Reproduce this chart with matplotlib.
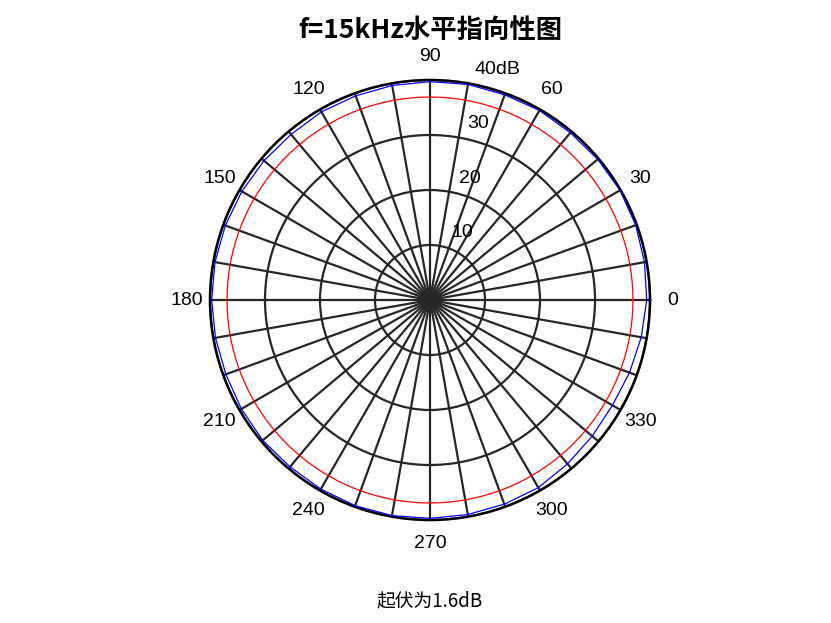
import numpy as np
import matplotlib
matplotlib.use("Agg")
import matplotlib.pyplot as plt

plt.rcParams["font.family"] = ["Liberation Sans", "DejaVu Sans"]

# measured level (dB) every 10 degrees, 0..350
angles_deg = np.arange(0, 360, 10)
level_db = [39.4, 39.6, 39.8, 39.9, 39.8, 39.7, 39.8, 39.7, 39.8,
            39.7, 39.6, 39.5, 39.5, 39.3, 39.4, 39.5, 39.6, 39.7,
            39.7, 39.6, 39.5, 39.6, 39.7, 39.6, 39.7, 39.8, 39.8,
            39.7, 39.6, 39.5, 39.4, 38.9, 38.5, 38.3, 38.6, 39.0]
ref_db = max(level_db) - 3.0          # -3 dB reference circle
ripple = max(level_db) - min(level_db)

r_ticks = [10, 20, 30, 40]
r_labels = ["10", "20", "30", "40dB"]
theta_labels = list(range(0, 360, 30))

title = "f=15kHz水平指向性图"
note = "起伏为%.1fdB" % ripple

fig = plt.figure(figsize=(8.31, 6.23), dpi=100)
ax = fig.add_axes([0.2527, 0.1653, 0.5295, 0.7063], projection="polar")

th = np.deg2rad(np.append(angles_deg, angles_deg[0]))
lv = np.append(level_db, level_db[0])
ax.plot(th, lv, color="blue", lw=0.9, zorder=3)
tt = np.linspace(0, 2*np.pi, 721)
ax.plot(tt, np.full_like(tt, ref_db), color="red", lw=0.9, zorder=3)

ax.set_ylim(0, 40)
ax.set_rticks(r_ticks)
ax.set_yticklabels([])
ax.set_thetagrids(np.arange(0, 360, 10), labels=[""]*36)
ax.tick_params(length=0)
ax.grid(True, color="#262626", lw=1.6)
ax.spines["polar"].set_color("black")
ax.spines["polar"].set_linewidth(1.8)

for a in theta_labels:
    ax.text(np.deg2rad(a), 44.2, str(a), ha="center", va="center", fontsize=14)

for r, lab in zip(r_ticks, r_labels):
    ax.annotate(lab, xy=(np.deg2rad(82), r + 0.5), xytext=(9.9, 4.2),
                textcoords="offset points", ha="left", va="baseline",
                fontsize=14, annotation_clip=False)

fig.text(0.5175, 0.951, title, ha="center", va="center", fontsize=19,
         fontweight="bold", family=["Noto Sans CJK SC", "DejaVu Sans"])
fig.text(0.5175, 0.0353, note, ha="center", va="center", fontsize=13.5,
         family=["Noto Sans CJK SC", "DejaVu Sans"])

fig.savefig("out.png", dpi=100)
